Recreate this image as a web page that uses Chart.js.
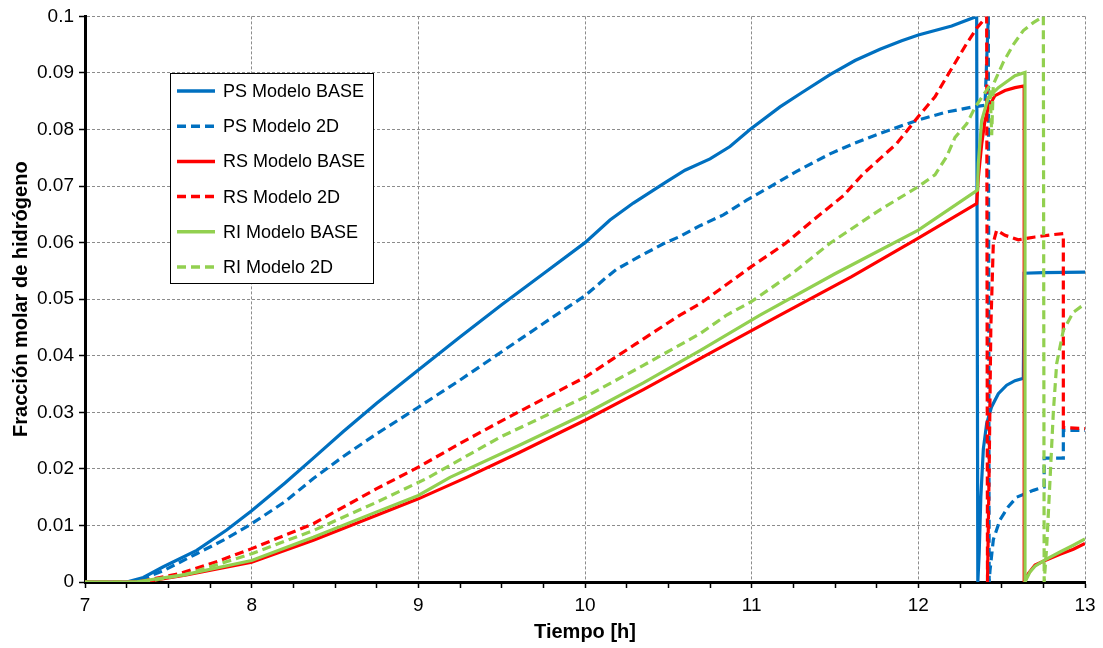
<!DOCTYPE html>
<html>
<head>
<meta charset="utf-8">
<script src="https://cdn.jsdelivr.net/npm/chart.js@4.4.1/dist/chart.umd.min.js"></script>
<style>
    html, body { margin: 0; padding: 0; background: #fff; }
    #wrap { width: 1103px; height: 648px; }
</style>
</head>
<body>
<div id="wrap"><canvas id="chart" width="1103" height="648"></canvas></div>
<script>
// Tiempo [h] / fracción molar
const psBaseX = [7, 7.25, 7.35, 7.47, 7.67, 7.85, 8, 8.2, 8.37, 8.55, 8.75, 9, 9.25, 9.5, 9.75, 10, 10.15, 10.29, 10.49, 10.6, 10.75, 10.87, 10.99, 11.17, 11.3, 11.47, 11.62, 11.77, 11.9, 12, 12.2, 12.35, 12.357, 12.365, 12.375, 12.39, 12.41, 12.44, 12.48, 12.53, 12.58, 12.63, 12.635, 12.75, 13];
const psBaseY = [0, 0, 0.0008, 0.0027, 0.0056, 0.0092, 0.0126, 0.0175, 0.0219, 0.0266, 0.0316, 0.0375, 0.0433, 0.049, 0.0545, 0.06, 0.064, 0.067, 0.0708, 0.0728, 0.0748, 0.077, 0.08, 0.084, 0.0865, 0.0897, 0.0922, 0.0942, 0.0957, 0.0967, 0.0983, 0.1, 0, 0.005, 0.015, 0.0235, 0.028, 0.031, 0.0333, 0.0348, 0.0356, 0.036, 0.0546, 0.0547, 0.0548];

const ps2dX = [7, 7.3, 7.47, 7.67, 7.85, 8, 8.2, 8.37, 8.55, 8.75, 9, 9.25, 9.5, 9.75, 10, 10.13, 10.19, 10.33, 10.47, 10.57, 10.69, 10.83, 10.97, 11.1, 11.27, 11.47, 11.62, 11.77, 12, 12.17, 12.33, 12.4, 12.42, 12.425, 12.43, 12.45, 12.49, 12.54, 12.59, 12.69, 12.755, 12.755, 12.87, 12.87, 13];
const ps2dY = [0, 0, 0.002, 0.005, 0.0077, 0.0103, 0.0142, 0.0183, 0.0222, 0.0262, 0.0309, 0.0357, 0.0407, 0.0457, 0.0506, 0.0539, 0.0553, 0.0576, 0.0598, 0.0611, 0.063, 0.0649, 0.0675, 0.0697, 0.0726, 0.0757, 0.0776, 0.0793, 0.0817, 0.0831, 0.084, 0.0843, 0.1, 0, 0.002, 0.0075, 0.011, 0.0133, 0.015, 0.0162, 0.0168, 0.0219, 0.0219, 0.0268, 0.0268];

const rsBaseX = [7, 7.35, 7.6, 8, 8.37, 8.75, 9, 9.29, 9.6, 10, 10.35, 10.69, 11.17, 11.6, 12, 12.35, 12.36, 12.38, 12.4, 12.42, 12.46, 12.52, 12.58, 12.635, 12.635, 12.66, 12.7, 12.76, 12.85, 12.93, 13];
const rsBaseY = [0, 0, 0.0012, 0.0035, 0.0074, 0.0118, 0.0147, 0.0185, 0.0228, 0.0286, 0.034, 0.0395, 0.0472, 0.054, 0.0608, 0.0669, 0.0715, 0.0774, 0.0816, 0.0839, 0.086, 0.0869, 0.0874, 0.0877, 0, 0.0015, 0.003, 0.0038, 0.0049, 0.0058, 0.0068];

const rs2dX = [7, 7.3, 7.37, 7.57, 7.8, 8, 8.37, 8.75, 9, 9.25, 9.5, 10, 10.3, 10.57, 10.69, 11, 11.2, 11.37, 11.55, 11.67, 11.87, 12, 12.1, 12.17, 12.29, 12.35, 12.41, 12.415, 12.425, 12.435, 12.45, 12.47, 12.52, 12.6, 12.7, 12.8, 12.87, 12.87, 13];
const rs2dY = [0, 0, 0.0003, 0.0015, 0.0037, 0.0059, 0.0103, 0.0165, 0.0203, 0.0245, 0.0285, 0.0362, 0.042, 0.0472, 0.0492, 0.0558, 0.0598, 0.064, 0.0683, 0.0722, 0.0775, 0.0823, 0.0858, 0.0893, 0.0952, 0.0979, 0.1, 0, 0.02, 0.045, 0.06, 0.0622, 0.0613, 0.0605, 0.061, 0.0614, 0.0616, 0.0273, 0.0271];

const riBaseX = [7, 7.3, 7.6, 8, 8.37, 8.75, 9, 9.19, 9.6, 10, 10.35, 10.69, 11.05, 11.5, 12, 12.355, 12.36, 12.38, 12.42, 12.48, 12.58, 12.64, 12.64, 12.67, 12.7, 12.76, 12.85, 12.93, 13];
const riBaseY = [0, 0, 0.0013, 0.0038, 0.0079, 0.0124, 0.0153, 0.0185, 0.0241, 0.0297, 0.0352, 0.0409, 0.0472, 0.0545, 0.0622, 0.0693, 0.074, 0.0816, 0.0857, 0.0874, 0.0895, 0.0901, 0, 0.0018, 0.0028, 0.0039, 0.0053, 0.0065, 0.0076];

const ri2dX = [7, 7.35, 7.6, 8, 8.37, 8.75, 9.05, 9.49, 10, 10.35, 10.69, 10.85, 11, 11.25, 11.47, 11.77, 12, 12.1, 12.17, 12.22, 12.29, 12.34, 12.42, 12.43, 12.44, 12.45, 12.51, 12.57, 12.63, 12.69, 12.75, 12.755, 12.77, 12.79, 12.81, 12.83, 12.87, 12.93, 13];
const ri2dY = [0, 0, 0.0013, 0.005, 0.0091, 0.0141, 0.0183, 0.0256, 0.0327, 0.0383, 0.0439, 0.0472, 0.0496, 0.0547, 0.0599, 0.0658, 0.0699, 0.072, 0.0752, 0.0786, 0.081, 0.0839, 0.0874, 0.0877, 0.079, 0.088, 0.0919, 0.095, 0.0975, 0.0989, 0.1, 0, 0.0062, 0.018, 0.03, 0.0386, 0.0445, 0.0477, 0.0492];

const seriesLabels = ['PS Modelo BASE', 'PS Modelo 2D', 'RS Modelo BASE', 'RS Modelo 2D', 'RI Modelo BASE', 'RI Modelo 2D'];
const xTicks = [7, 8, 9, 10, 11, 12, 13];

const BLUE = '#0070C0', RED = '#FF0000', GREEN = '#92D050';
const DASH = [9, 5];
const FONT = '"Liberation Sans", Arial, sans-serif';

function pts(xs, ys) {
    return xs.map((x, i) => ({ x: x, y: ys[i] }));
}

function isMajor(v) {
    return Math.abs(v - Math.round(v)) < 1e-6;
}

// Legend drawn inside the plot, like the Excel box
const legendBox = {
    id: 'legendBox',
    afterDatasetsDraw(chart) {
        const ctx = chart.ctx;
        ctx.save();
        ctx.fillStyle = '#fff';
        ctx.fillRect(170, 73, 203, 210);
        ctx.strokeStyle = '#000';
        ctx.lineWidth = 1;
        ctx.strokeRect(170.5, 73.5, 203, 210);
        ctx.font = '18px ' + FONT;
        ctx.textBaseline = 'middle';
        chart.data.datasets.forEach((ds, i) => {
            const y = 91 + i * 35.2;
            ctx.strokeStyle = ds.borderColor;
            ctx.lineWidth = 3.5;
            ctx.setLineDash(ds.borderDash || []);
            ctx.beginPath();
            ctx.moveTo(177, y);
            ctx.lineTo(215, y);
            ctx.stroke();
            ctx.setLineDash([]);
            ctx.fillStyle = '#000';
            ctx.fillText(ds.label, 223, y + 1);
        });
        ctx.restore();
    }
};

function makeSet(i, xs, ys, color, dashed) {
    return {
        label: seriesLabels[i],
        data: pts(xs, ys),
        borderColor: color,
        backgroundColor: color,
        borderWidth: 3.2,
        borderDash: dashed ? DASH : [],
        pointRadius: 0,
        tension: 0,
        order: 6 - i
    };
}

const ctx = document.getElementById('chart').getContext('2d');
new Chart(ctx, {
    type: 'line',
    data: {
        datasets: [
            makeSet(0, psBaseX, psBaseY, BLUE, false),
            makeSet(1, ps2dX, ps2dY, BLUE, true),
            makeSet(2, rsBaseX, rsBaseY, RED, false),
            makeSet(3, rs2dX, rs2dY, RED, true),
            makeSet(4, riBaseX, riBaseY, GREEN, false),
            makeSet(5, ri2dX, ri2dY, GREEN, true)
        ]
    },
    options: {
        responsive: false,
        animation: false,
        devicePixelRatio: 1,
        layout: { padding: { top: 16, right: 18, left: 0, bottom: 0 } },
        plugins: {
            legend: { display: false },
            tooltip: { enabled: false }
        },
        scales: {
            x: {
                type: 'linear',
                min: 7,
                max: 13,
                afterFit: (scale) => { scale.height = 66; },
                ticks: {
                    stepSize: 0.25,
                    autoSkip: false,
                    maxRotation: 0,
                    padding: 6,
                    color: '#000',
                    font: { family: FONT, size: 19 },
                    callback: (v) => (isMajor(v) && xTicks.includes(Math.round(v)) ? String(Math.round(v)) : '')
                },
                grid: {
                    color: (c) => (c.tick && isMajor(c.tick.value) && c.tick.value > 7 ? '#8c8c8c' : 'transparent'),
                    tickColor: '#000',
                    tickLength: 6,
                    tickWidth: 1.5,
                    lineWidth: 1
                },
                border: { display: true, color: '#000', width: 3, dash: [3, 2] },
                title: {
                    display: true,
                    text: 'Tiempo [h]',
                    color: '#000',
                    font: { family: FONT, size: 20, weight: 'bold' },
                    padding: { top: 0, bottom: 4 }
                }
            },
            y: {
                min: 0,
                max: 0.1,
                afterFit: (scale) => { scale.width = 85; },
                ticks: {
                    stepSize: 0.01,
                    padding: 5,
                    color: '#000',
                    font: { family: FONT, size: 19 },
                    callback: (v) => String(+v.toFixed(2))
                },
                grid: {
                    color: (c) => (c.tick && c.tick.value > 0.0001 ? '#8c8c8c' : 'transparent'),
                    tickColor: '#000',
                    tickLength: 6,
                    tickWidth: 1.5,
                    lineWidth: 1
                },
                border: { display: true, color: '#000', width: 3, dash: [3, 2] },
                title: {
                    display: true,
                    text: 'Fracción molar de hidrógeno',
                    color: '#000',
                    font: { family: FONT, size: 20, weight: 'bold' },
                    padding: { top: 9, bottom: 0 }
                }
            }
        }
    },
    plugins: [legendBox]
});
</script>
</body>
</html>
